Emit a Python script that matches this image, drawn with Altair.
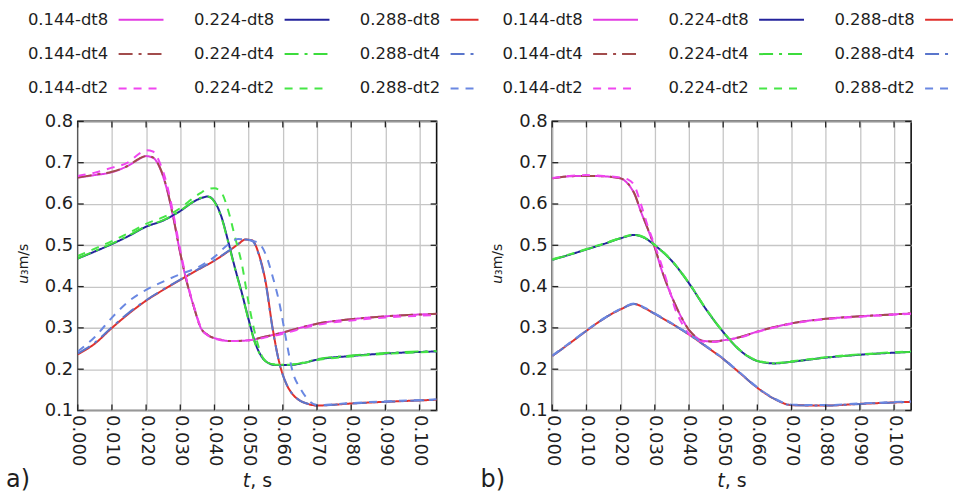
import altair as alt
import pandas as pd

FONT = "DejaVu Sans"
TXT = "#1e1e1e"

GROUPS = ["0.144", "0.224", "0.288"]
STEPS = ["dt8", "dt4", "dt2"]

# colour and dash for every series, by (group, step)
COLORS = {
    "0.144-dt8": "#e23ce2", "0.224-dt8": "#23239c", "0.288-dt8": "#e0302c",
    "0.144-dt4": "#a24c4c", "0.224-dt4": "#3cdc3c", "0.288-dt4": "#5a76cc",
    "0.144-dt2": "#f046f0", "0.224-dt2": "#46e646", "0.288-dt2": "#6a88e2",
}
DASHES = {"dt8": [1, 0], "dt4": [14, 6, 3, 6], "dt2": [8, 7]}

# ---------------- panel a) ----------------
a_t_144 = [0, 0.005, 0.010, 0.015, 0.018, 0.020, 0.022, 0.024, 0.026, 0.028, 0.030, 0.032, 0.034,
           0.036, 0.038, 0.041, 0.045, 0.050, 0.055, 0.060, 0.065, 0.070, 0.080, 0.090, 0.105]
a_144_dt8 = [0.664, 0.670, 0.677, 0.694, 0.709, 0.716, 0.712, 0.688, 0.638, 0.565, 0.480, 0.408, 0.350,
             0.300, 0.283, 0.273, 0.268, 0.270, 0.279, 0.289, 0.300, 0.310, 0.321, 0.328, 0.334]
a_144_dt4 = [0.664, 0.671, 0.678, 0.694, 0.710, 0.716, 0.713, 0.689, 0.640, 0.566, 0.481, 0.408, 0.350,
             0.300, 0.283, 0.273, 0.268, 0.270, 0.279, 0.289, 0.300, 0.310, 0.321, 0.328, 0.334]
a_144_dt2 = [0.668, 0.676, 0.688, 0.702, 0.722, 0.730, 0.727, 0.700, 0.650, 0.575, 0.488, 0.412, 0.352,
             0.302, 0.282, 0.272, 0.268, 0.270, 0.277, 0.286, 0.297, 0.307, 0.318, 0.325, 0.331]

a_t_224 = [0, 0.005, 0.010, 0.015, 0.020, 0.025, 0.030, 0.034, 0.036, 0.038, 0.040, 0.042, 0.044,
           0.046, 0.048, 0.050, 0.052, 0.054, 0.056, 0.058, 0.062, 0.066, 0.070, 0.080, 0.090, 0.105]
a_224_dt8 = [0.468, 0.485, 0.503, 0.523, 0.545, 0.560, 0.583, 0.606, 0.614, 0.618, 0.606, 0.570, 0.510,
             0.445, 0.385, 0.320, 0.262, 0.228, 0.214, 0.210, 0.210, 0.215, 0.223, 0.232, 0.238, 0.243]
a_224_dt4 = [0.468, 0.486, 0.504, 0.524, 0.546, 0.561, 0.584, 0.607, 0.615, 0.618, 0.605, 0.568, 0.508,
             0.443, 0.383, 0.318, 0.260, 0.227, 0.214, 0.211, 0.211, 0.216, 0.224, 0.233, 0.239, 0.244]
a_224_dt2 = [0.474, 0.492, 0.510, 0.530, 0.552, 0.568, 0.590, 0.616, 0.627, 0.636, 0.638, 0.628, 0.585,
             0.520, 0.455, 0.360, 0.282, 0.230, 0.215, 0.211, 0.211, 0.215, 0.222, 0.231, 0.237, 0.242]

a_t_288 = [0, 0.005, 0.010, 0.015, 0.020, 0.025, 0.030, 0.035, 0.040, 0.044, 0.047, 0.049, 0.051,
           0.053, 0.055, 0.057, 0.059, 0.061, 0.063, 0.065, 0.067, 0.070, 0.075, 0.080, 0.090, 0.105]
a_288_dt8 = [0.236, 0.262, 0.300, 0.335, 0.366, 0.392, 0.416, 0.440, 0.463, 0.485, 0.503, 0.514, 0.512,
             0.478, 0.410, 0.300, 0.215, 0.165, 0.138, 0.124, 0.117, 0.112, 0.114, 0.117, 0.121, 0.126]
a_288_dt4 = [0.238, 0.264, 0.302, 0.337, 0.367, 0.393, 0.417, 0.441, 0.464, 0.486, 0.504, 0.514, 0.511,
             0.476, 0.407, 0.298, 0.214, 0.165, 0.138, 0.124, 0.117, 0.112, 0.114, 0.117, 0.121, 0.126]
a_288_dt2 = [0.243, 0.278, 0.325, 0.365, 0.392, 0.412, 0.430, 0.446, 0.472, 0.502, 0.515, 0.514, 0.511,
             0.505, 0.478, 0.425, 0.360, 0.270, 0.190, 0.155, 0.130, 0.113, 0.115, 0.118, 0.122, 0.127]

# ---------------- panel b) ----------------
b_t_144 = [0, 0.005, 0.010, 0.015, 0.020, 0.022, 0.024, 0.026, 0.028, 0.030, 0.032, 0.034, 0.036,
           0.038, 0.040, 0.042, 0.044, 0.047, 0.050, 0.055, 0.060, 0.065, 0.070, 0.080, 0.090, 0.105]
b_144_dt8 = [0.662, 0.667, 0.668, 0.667, 0.662, 0.650, 0.625, 0.580, 0.538, 0.494, 0.440, 0.395, 0.356,
             0.322, 0.295, 0.278, 0.269, 0.267, 0.270, 0.278, 0.291, 0.302, 0.311, 0.322, 0.328, 0.335]
b_144_dt4 = [0.662, 0.667, 0.668, 0.667, 0.662, 0.651, 0.626, 0.581, 0.539, 0.495, 0.441, 0.396, 0.356,
             0.322, 0.295, 0.278, 0.269, 0.267, 0.270, 0.278, 0.291, 0.302, 0.311, 0.322, 0.328, 0.335]
b_144_dt2 = [0.663, 0.668, 0.670, 0.668, 0.664, 0.660, 0.645, 0.598, 0.545, 0.500, 0.452, 0.400, 0.345,
             0.310, 0.285, 0.272, 0.267, 0.266, 0.269, 0.277, 0.290, 0.301, 0.310, 0.321, 0.327, 0.334]

b_t_224 = [0, 0.005, 0.010, 0.015, 0.020, 0.024, 0.027, 0.030, 0.035, 0.040, 0.045, 0.050, 0.055,
           0.060, 0.065, 0.070, 0.080, 0.090, 0.105]
b_224_dt8 = [0.465, 0.477, 0.490, 0.503, 0.517, 0.525, 0.518, 0.500, 0.462, 0.408, 0.345, 0.290, 0.245,
             0.220, 0.214, 0.218, 0.228, 0.235, 0.242]
b_224_dt4 = [0.465, 0.477, 0.490, 0.503, 0.517, 0.525, 0.518, 0.500, 0.462, 0.408, 0.345, 0.290, 0.245,
             0.220, 0.214, 0.218, 0.228, 0.235, 0.242]
b_224_dt2 = [0.466, 0.478, 0.491, 0.504, 0.518, 0.526, 0.519, 0.501, 0.463, 0.409, 0.346, 0.291, 0.246,
             0.221, 0.215, 0.219, 0.229, 0.236, 0.243]

b_t_288 = [0, 0.005, 0.010, 0.015, 0.020, 0.024, 0.027, 0.030, 0.035, 0.040, 0.045, 0.050, 0.055,
           0.060, 0.065, 0.070, 0.080, 0.090, 0.105]
b_288_dt8 = [0.232, 0.262, 0.293, 0.322, 0.345, 0.358, 0.348, 0.334, 0.310, 0.284, 0.255, 0.225, 0.190,
             0.155, 0.128, 0.113, 0.112, 0.116, 0.121]
b_288_dt4 = [0.232, 0.262, 0.293, 0.322, 0.345, 0.358, 0.348, 0.334, 0.310, 0.284, 0.255, 0.225, 0.190,
             0.155, 0.128, 0.113, 0.112, 0.116, 0.121]
b_288_dt2 = [0.233, 0.263, 0.294, 0.323, 0.346, 0.359, 0.349, 0.335, 0.311, 0.285, 0.256, 0.226, 0.191,
             0.156, 0.129, 0.114, 0.113, 0.117, 0.122]

X_TICKS = [0.00, 0.01, 0.02, 0.03, 0.04, 0.05, 0.06, 0.07, 0.08, 0.09, 0.10]
Y_TICKS = [0.1, 0.2, 0.3, 0.4, 0.5, 0.6, 0.7, 0.8]

PANEL_A = {
    "0.144": (a_t_144, {"dt8": a_144_dt8, "dt4": a_144_dt4, "dt2": a_144_dt2}),
    "0.224": (a_t_224, {"dt8": a_224_dt8, "dt4": a_224_dt4, "dt2": a_224_dt2}),
    "0.288": (a_t_288, {"dt8": a_288_dt8, "dt4": a_288_dt4, "dt2": a_288_dt2}),
}
PANEL_B = {
    "0.144": (b_t_144, {"dt8": b_144_dt8, "dt4": b_144_dt4, "dt2": b_144_dt2}),
    "0.224": (b_t_224, {"dt8": b_224_dt8, "dt4": b_224_dt4, "dt2": b_224_dt2}),
    "0.288": (b_t_288, {"dt8": b_288_dt8, "dt4": b_288_dt4, "dt2": b_288_dt2}),
}

NAMES = [f"{g}-{s}" for s in STEPS for g in GROUPS]

W, H = 360, 290


def frame(panel):
    rows = []
    for s in STEPS:
        for g in GROUPS:
            ts, vals = panel[g]
            for t, v in zip(ts, vals[s]):
                rows.append({"t": t, "v": v, "series": f"{g}-{s}"})
    return pd.DataFrame(rows)


X_AXIS = alt.Axis(values=X_TICKS, format=".3f", labelAngle=90, labelFlush=False,
                  labelOverlap=False, labelPadding=4, title=None, grid=True)
Y_AXIS = alt.Axis(values=Y_TICKS, format=".1f", labelFlush=False, labelOverlap=False,
                  labelPadding=5, title=None, grid=True)
X_SCALE = alt.Scale(domain=[0, 0.105], nice=False, zero=False)
Y_SCALE = alt.Scale(domain=[0.1, 0.8], nice=False, zero=False)


def panel_chart(panel, letter):
    df = frame(panel)
    lines = alt.Chart(df).mark_line(strokeWidth=2, interpolate="monotone", clip=True).encode(
        x=alt.X("t:Q", scale=X_SCALE, axis=X_AXIS),
        y=alt.Y("v:Q", scale=Y_SCALE, axis=Y_AXIS),
        color=alt.Color("series:N", scale=alt.Scale(domain=NAMES, range=[COLORS[n] for n in NAMES]),
                        legend=None),
        strokeDash=alt.StrokeDash("series:N",
                                  scale=alt.Scale(domain=NAMES,
                                                  range=[DASHES[n.split("-")[1]] for n in NAMES]),
                                  legend=None),
    )
    xt = pd.DataFrame({"t": X_TICKS})
    yt = pd.DataFrame({"v": Y_TICKS})
    tick_style = dict(color="#222", strokeWidth=1.3)
    tb = alt.Chart(xt).mark_rule(**tick_style).encode(
        x=alt.X("t:Q", scale=X_SCALE, axis=X_AXIS), y=alt.value(H), y2=alt.value(H - 6))
    tt = alt.Chart(xt).mark_rule(**tick_style).encode(
        x=alt.X("t:Q", scale=X_SCALE, axis=X_AXIS), y=alt.value(0), y2=alt.value(6))
    tl = alt.Chart(yt).mark_rule(**tick_style).encode(
        y=alt.Y("v:Q", scale=Y_SCALE, axis=Y_AXIS), x=alt.value(0), x2=alt.value(6))
    tr = alt.Chart(yt).mark_rule(**tick_style).encode(
        y=alt.Y("v:Q", scale=Y_SCALE, axis=Y_AXIS), x=alt.value(W), x2=alt.value(W - 6))

    layers = [lines, tb, tt, tl, tr]

    # legend: 3 columns (groups) x 3 rows (time steps), label then line sample
    for ci, g in enumerate(GROUPS):
        for ri, s in enumerate(STEPS):
            name = f"{g}-{s}"
            ldf = pd.DataFrame({"label": [name]})
            ty = -102 + ri * 34.5
            tx = -50 + ci * 166.5
            lx1 = 41 + ci * 166.5
            lx2 = min(lx1 + 45, 402)
            layers.append(alt.Chart(ldf).mark_text(
                align="left", baseline="middle", fontSize=16.5, font=FONT, color=TXT
            ).encode(text="label:N", x=alt.value(tx), y=alt.value(ty)))
            layers.append(alt.Chart(ldf).mark_rule(
                color=COLORS[name], strokeDash=DASHES[s], strokeWidth=2
            ).encode(x=alt.value(lx1), x2=alt.value(lx2), y=alt.value(ty)))

    one = pd.DataFrame({"k": [0]})
    # axis titles and panel letter
    layers.append(alt.Chart(one).mark_text(
        text="t", align="right", baseline="alphabetic", fontSize=19, font=FONT,
        fontStyle="italic", color=TXT).encode(x=alt.value(173), y=alt.value(367)))
    layers.append(alt.Chart(one).mark_text(
        text=", s", align="left", baseline="alphabetic", fontSize=19, font=FONT,
        color=TXT).encode(x=alt.value(173), y=alt.value(367)))
    layers.append(alt.Chart(one).mark_text(
        text="u", align="right", baseline="middle", fontSize=14, font=FONT, angle=270,
        fontStyle="italic", color=TXT).encode(x=alt.value(-54), y=alt.value(154)))
    layers.append(alt.Chart(one).mark_text(
        text="\u2083m/s", align="left", baseline="middle", fontSize=14, font=FONT, angle=270,
        color=TXT).encode(x=alt.value(-54), y=alt.value(154)))
    layers.append(alt.Chart(one).mark_text(
        text=letter, align="left", baseline="alphabetic", fontSize=24, font=FONT,
        color=TXT).encode(x=alt.value(-72), y=alt.value(367)))

    return alt.layer(*layers).properties(width=W, height=H)


chart = alt.hconcat(
    panel_chart(PANEL_A, "a)"), panel_chart(PANEL_B, "b)"), spacing=116, bounds="flush"
).properties(
    padding={"left": 5, "top": 10, "right": 1, "bottom": 2}
).configure_view(
    stroke="#111", strokeWidth=1.6
).configure_axis(
    labelFont=FONT, labelFontSize=18, labelColor=TXT, domain=False, ticks=False,
    gridColor="#c6c6c6", gridWidth=1.3
)

chart.save("out.html", embed_options={"renderer": "svg", "actions": False})
